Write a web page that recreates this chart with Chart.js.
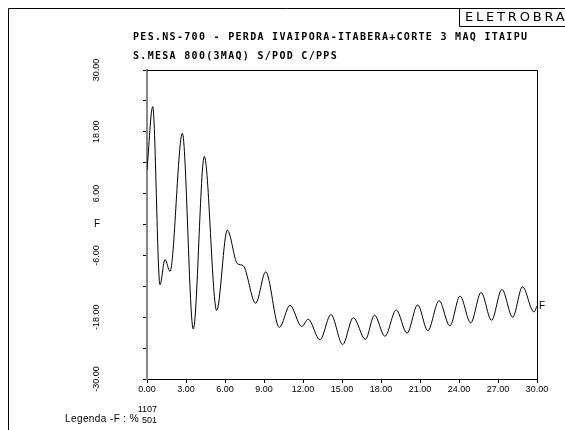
<!DOCTYPE html>
<html>
<head>
<meta charset="utf-8">
<script src="https://cdn.jsdelivr.net/npm/chart.js@4.4.0/dist/chart.umd.min.js"></script>
<style>
  html, body { margin: 0; padding: 0; background: #fff; }
  #wrap { width: 565px; height: 430px; }
</style>
</head>
<body>
<div id="wrap"><canvas id="grafico" width="565" height="430"></canvas></div>
<script>
// tempo (s) e valor de F (picos e vales)
const tempos = [0, 0.44, 1.0, 1.38, 1.77, 2.72, 3.56, 4.41, 5.36, 6.18, 6.95, 7.4, 8.36, 9.13,
  10.18, 11.0, 11.9, 12.4, 13.3, 14.15, 15.05, 15.87, 16.8, 17.5, 18.3, 19.17, 20.0, 20.82,
  21.6, 22.47, 23.3, 24.08, 24.9, 25.7, 26.5, 27.3, 28.13, 28.88, 29.77, 30];
const valoresF = [10.6, 22.9, -11.7, -6.8, -9.1, 17.7, -20.3, 13.2, -16.7, -1.1, -7.6, -8.0, -15.3, -9.2,
  -20.0, -15.7, -19.8, -18.4, -22.4, -17.5, -23.3, -18.1, -22.3, -17.6, -21.7, -16.6, -21.1, -15.6,
  -20.6, -14.8, -19.7, -13.9, -19.1, -13.2, -18.6, -12.6, -18.0, -12.1, -17.0, -15.8];

const yRotulos = [30, 18, 6, -6, -18, -30];
const titulo1 = "PES.NS-700 - PERDA IVAIPORA-ITABERA+CORTE 3 MAQ ITAIPU";
const titulo2 = "S.MESA 800(3MAQ) S/POD C/PPS";
const marca = "ELETROBRAS";
const legendaTexto = "Legenda -F : %";
const legendaNums = ["1107", "501"];

const pontos = tempos.map((t, i) => ({ x: t, y: valoresF[i] }));

// -----------------------------
// moldura, titulos e rotulos
// -----------------------------
const moldura = {
  id: "moldura",
  afterDraw(chart) {
    const ctx = chart.ctx;
    const a = chart.chartArea;
    const ys = chart.scales.y;
    ctx.save();
    ctx.fillStyle = "#000";
    ctx.strokeStyle = "#000";
    ctx.lineWidth = 1;

    // borda da pagina
    ctx.beginPath();
    ctx.moveTo(8.5, 430); ctx.lineTo(8.5, 8.5); ctx.lineTo(565, 8.5);
    ctx.stroke();
    // caixa da marca
    ctx.beginPath();
    ctx.moveTo(459.5, 8.5); ctx.lineTo(459.5, 26.5); ctx.lineTo(565, 26.5);
    ctx.stroke();
    ctx.font = "13px 'DejaVu Sans'";
    ctx.textBaseline = "middle";
    ctx.textAlign = "left";
    ctx.letterSpacing = "2.8px";
    ctx.fillText(marca, 465, 18);
    ctx.letterSpacing = "0px";

    // titulos
    ctx.font = "bold 10px 'DejaVu Sans Mono'";
    ctx.letterSpacing = "1.3px";
    ctx.fillText(titulo1, 133, 37);
    ctx.fillText(titulo2, 133, 56);
    ctx.letterSpacing = "0px";

    // topo e lado direito do quadro
    ctx.beginPath();
    ctx.moveTo(a.left, a.top + 0.5); ctx.lineTo(a.right + 0.5, a.top + 0.5);
    ctx.lineTo(a.right + 0.5, a.bottom);
    ctx.stroke();

    // rotulos do eixo y (girados)
    ctx.font = "9px 'Liberation Sans'";
    ctx.textAlign = "center";
    yRotulos.forEach(v => {
      ctx.save();
      ctx.translate(97, ys.getPixelForValue(v));
      ctx.rotate(-Math.PI / 2);
      ctx.fillText(v.toFixed(2), 0, 0);
      ctx.restore();
    });
    ctx.font = "10px 'Liberation Sans'";
    ctx.fillText("F", 97, ys.getPixelForValue(0));

    // F no fim da curva
    ctx.textAlign = "left";
    ctx.fillText("F", a.right + 2, ys.getPixelForValue(valoresF[valoresF.length - 1]));

    // legenda
    ctx.font = "10px 'Liberation Sans'";
    ctx.letterSpacing = "0.4px";
    ctx.fillText(legendaTexto, 65, 419);
    ctx.letterSpacing = "0px";
    ctx.font = "9px 'Liberation Sans'";
    ctx.textAlign = "right";
    ctx.fillText(legendaNums[0], 157, 410);
    ctx.fillText(legendaNums[1], 157, 421);
    ctx.restore();
  }
};

new Chart(document.getElementById("grafico"), {
  type: "line",
  data: {
    datasets: [{
      data: pontos,
      borderColor: "#000",
      borderWidth: 1,
      pointRadius: 0,
      fill: false,
      cubicInterpolationMode: "monotone"
    }]
  },
  options: {
    responsive: false,
    animation: false,
    devicePixelRatio: 1,
    layout: { padding: { top: 70, right: 28, bottom: 0, left: 0 } },
    plugins: { legend: { display: false }, tooltip: { enabled: false } },
    scales: {
      x: {
        type: "linear",
        min: 0, max: 30,
        grid: { drawOnChartArea: false, drawTicks: true, tickLength: 4, color: "#000", tickColor: "#000" },
        border: { display: true, color: "#000", width: 1 },
        ticks: {
          stepSize: 3, autoSkip: false, maxRotation: 0, padding: 1,
          color: "#000", font: { family: "Liberation Sans", size: 9 },
          callback: v => v.toFixed(2)
        },
        afterFit(s) { s.height = 51; s.paddingLeft = 0; s.paddingRight = 0; }
      },
      y: {
        min: -30, max: 30,
        grid: { drawOnChartArea: false, drawTicks: true, tickLength: 4, color: "#000", tickColor: "#000" },
        border: { display: true, color: "#888", width: 2 },
        ticks: { stepSize: 6, display: false },
        afterFit(s) { s.width = 147; }
      }
    }
  },
  plugins: [moldura]
});
</script>
</body>
</html>
